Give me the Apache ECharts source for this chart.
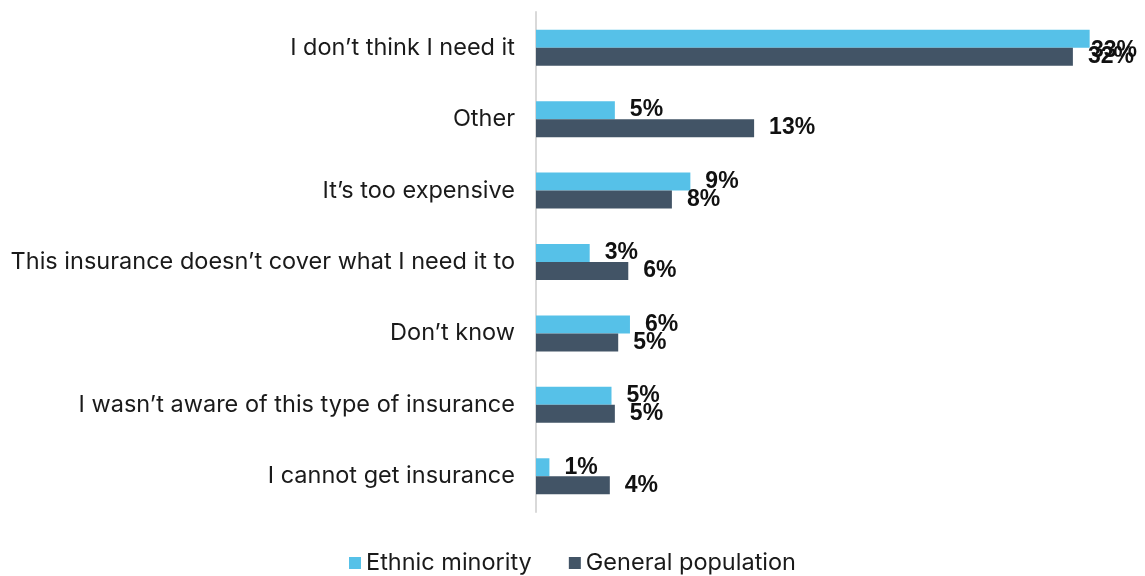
<!DOCTYPE html>
<html>
<head>
<meta charset="utf-8">
<script src="https://cdn.jsdelivr.net/npm/echarts@6/dist/echarts.min.js"></script>
<style>html,body{margin:0;padding:0;background:#fff}#c{width:1145px;height:576px}</style>
</head>
<body>
<div id="c"></div>
<script>
var categories = [
  "I don\u2019t think I need it",
  "Other",
  "It\u2019s too expensive",
  "This insurance doesn\u2019t cover what I need it to",
  "Don\u2019t know",
  "I wasn\u2019t aware of this type of insurance",
  "I cannot get insurance"
];
var seriesNames = ["Ethnic minority", "General population"];
var ethnicMinority = [33, 4.7, 9.2, 3.2, 5.6, 4.5, 0.8];
var generalPopulation = [32, 13, 8.1, 5.5, 4.9, 4.7, 4.4];
var colors = ["#56C1E8", "#425466"];

var chart = echarts.init(document.getElementById('c'), null, {renderer: 'canvas'});
var W = 1145;
function labelCfg() {
  return {
    show: true, position: 'right', distance: 15,
    fontFamily: 'Liberation Sans, Arial, sans-serif', fontWeight: 'bold', fontSize: 23, color: '#111',
    formatter: function (p) { return Math.round(p.value) + '%'; }
  };
}
function fitLayout(params) {
  var r = params.labelRect;
  if (r.x + r.width > W - 8) {
    return { x: W - 8 - r.width };
  }
  return {};
}
chart.setOption({
  animation: false,
  color: colors,
  grid: { left: 536, right: 5, top: 12, bottom: 64, containLabel: false },
  legend: {
    top: 546, left: 'center', itemWidth: 12, itemHeight: 12, itemGap: 37,
    icon: 'rect',
    textStyle: { fontFamily: 'Inter, sans-serif', fontSize: 23.5, color: '#1a1a1a' },
    data: seriesNames
  },
  xAxis: {
    type: 'value', min: 0, max: 36,
    axisLine: { show: false }, axisTick: { show: false }, axisLabel: { show: false }, splitLine: { show: false }
  },
  yAxis: {
    type: 'category', inverse: true, data: categories,
    axisLine: { show: true, lineStyle: { color: '#d9d9d9', width: 2 } },
    axisTick: { show: false },
    axisLabel: { margin: 21, fontFamily: 'Inter, sans-serif', fontSize: 23.5, color: '#1a1a1a' }
  },
  series: [
    { name: seriesNames[0], type: 'bar', data: ethnicMinority, barWidth: 18, barGap: '0%', label: labelCfg(), labelLayout: fitLayout },
    { name: seriesNames[1], type: 'bar', data: generalPopulation, barWidth: 18, barGap: '0%', label: labelCfg(), labelLayout: fitLayout }
  ]
});
</script>
</body>
</html>
